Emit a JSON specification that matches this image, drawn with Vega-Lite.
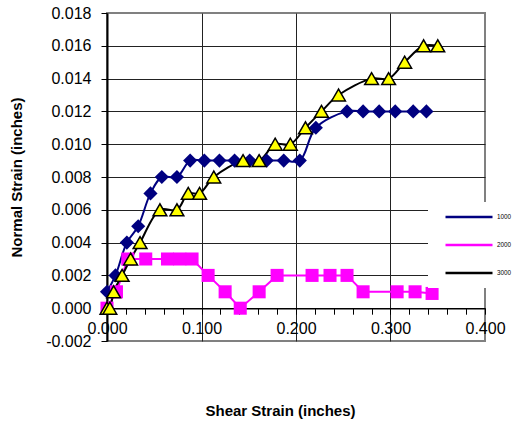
{
  "$schema": "https://vega.github.io/schema/vega-lite/v6.json",
  "width": 378,
  "height": 328,
  "autosize": {"type": "none"},
  "padding": {"left": 107, "top": 13, "right": 27, "bottom": 84},
  "background": "white",
  "config": {
    "view": {"stroke": "#808080", "strokeWidth": 2},
    "font": "Liberation Sans",
    "axis": {"labelColor": "#000", "titleColor": "#000", "tickColor": "#000", "domainColor": "#000", "labelFont": "Liberation Sans", "titleFont": "Liberation Sans"},
    "legend": {"labelFont": "Liberation Sans"}
  },
  "data": {
    "values": [
      {"series": "1000", "x": 0.000, "y": 0.001},
      {"series": "1000", "x": 0.009, "y": 0.002},
      {"series": "1000", "x": 0.021, "y": 0.004},
      {"series": "1000", "x": 0.033, "y": 0.005},
      {"series": "1000", "x": 0.046, "y": 0.007},
      {"series": "1000", "x": 0.058, "y": 0.008},
      {"series": "1000", "x": 0.074, "y": 0.008},
      {"series": "1000", "x": 0.088, "y": 0.009},
      {"series": "1000", "x": 0.103, "y": 0.009},
      {"series": "1000", "x": 0.119, "y": 0.009},
      {"series": "1000", "x": 0.135, "y": 0.009},
      {"series": "1000", "x": 0.151, "y": 0.009},
      {"series": "1000", "x": 0.169, "y": 0.009},
      {"series": "1000", "x": 0.187, "y": 0.009},
      {"series": "1000", "x": 0.204, "y": 0.009},
      {"series": "1000", "x": 0.221, "y": 0.011},
      {"series": "1000", "x": 0.254, "y": 0.012},
      {"series": "1000", "x": 0.271, "y": 0.012},
      {"series": "1000", "x": 0.288, "y": 0.012},
      {"series": "1000", "x": 0.305, "y": 0.012},
      {"series": "1000", "x": 0.324, "y": 0.012},
      {"series": "1000", "x": 0.338, "y": 0.012},
      {"series": "2000", "x": 0.000, "y": 0.000},
      {"series": "2000", "x": 0.010, "y": 0.001},
      {"series": "2000", "x": 0.022, "y": 0.003},
      {"series": "2000", "x": 0.041, "y": 0.003},
      {"series": "2000", "x": 0.064, "y": 0.003},
      {"series": "2000", "x": 0.077, "y": 0.003},
      {"series": "2000", "x": 0.090, "y": 0.003},
      {"series": "2000", "x": 0.107, "y": 0.002},
      {"series": "2000", "x": 0.125, "y": 0.001},
      {"series": "2000", "x": 0.141, "y": 0.000},
      {"series": "2000", "x": 0.161, "y": 0.001},
      {"series": "2000", "x": 0.180, "y": 0.002},
      {"series": "2000", "x": 0.217, "y": 0.002},
      {"series": "2000", "x": 0.236, "y": 0.002},
      {"series": "2000", "x": 0.254, "y": 0.002},
      {"series": "2000", "x": 0.271, "y": 0.001},
      {"series": "2000", "x": 0.307, "y": 0.001},
      {"series": "2000", "x": 0.326, "y": 0.001},
      {"series": "2000", "x": 0.344, "y": 0.0009},
      {"series": "3000", "x": 0.000, "y": 0.000},
      {"series": "3000", "x": 0.003, "y": 0.000},
      {"series": "3000", "x": 0.007, "y": 0.001},
      {"series": "3000", "x": 0.016, "y": 0.002},
      {"series": "3000", "x": 0.025, "y": 0.003},
      {"series": "3000", "x": 0.035, "y": 0.004},
      {"series": "3000", "x": 0.056, "y": 0.006},
      {"series": "3000", "x": 0.074, "y": 0.006},
      {"series": "3000", "x": 0.086, "y": 0.007},
      {"series": "3000", "x": 0.098, "y": 0.007},
      {"series": "3000", "x": 0.113, "y": 0.008},
      {"series": "3000", "x": 0.144, "y": 0.009},
      {"series": "3000", "x": 0.161, "y": 0.009},
      {"series": "3000", "x": 0.178, "y": 0.010},
      {"series": "3000", "x": 0.194, "y": 0.010},
      {"series": "3000", "x": 0.210, "y": 0.011},
      {"series": "3000", "x": 0.227, "y": 0.012},
      {"series": "3000", "x": 0.245, "y": 0.013},
      {"series": "3000", "x": 0.280, "y": 0.014},
      {"series": "3000", "x": 0.298, "y": 0.014},
      {"series": "3000", "x": 0.315, "y": 0.015},
      {"series": "3000", "x": 0.335, "y": 0.016},
      {"series": "3000", "x": 0.350, "y": 0.016}
    ]
  },
  "encoding": {
    "x": {
      "field": "x",
      "type": "quantitative",
      "scale": {"domain": [0, 0.4], "nice": false, "zero": false},
      "axis": {
        "values": [0, 0.02, 0.04, 0.06, 0.08, 0.1, 0.12, 0.14, 0.16, 0.18, 0.2, 0.22, 0.24, 0.26, 0.28, 0.3, 0.32, 0.34, 0.36, 0.38, 0.4],
        "offset": -32.8,
        "domainWidth": 1.5,
        "tickSize": 6,
        "tickWidth": 1,
        "labelExpr": "abs(datum.value*10 - round(datum.value*10)) < 0.001 ? format(datum.value, '.3f') : ''",
        "labelFontSize": 16,
        "labelPadding": 6,
        "labelFlush": false,
        "labelOverlap": false,
        "grid": true,
        "gridColor": "#222",
        "gridWidth": 1,
        "gridOpacity": {"condition": {"test": "abs(datum.value*10 - round(datum.value*10)) < 0.001 && datum.value > 0.05 && datum.value < 0.35", "value": 1}, "value": 0},
        "title": "Shear Strain (inches)",
        "titleFontSize": 15,
        "titleFontWeight": "bold",
        "titleX": 173,
        "titleY": 107,
        "titleBaseline": "alphabetic"
      }
    },
    "y": {
      "field": "y",
      "type": "quantitative",
      "scale": {"domain": [-0.002, 0.018], "nice": false, "zero": false},
      "axis": {
        "values": [-0.002, 0, 0.002, 0.004, 0.006, 0.008, 0.01, 0.012, 0.014, 0.016, 0.018],
        "labelExpr": "datum.value < 0 ? '-' + format(-datum.value, '.3f') : format(datum.value, '.3f')",
        "domainWidth": 2,
        "tickSize": 6,
        "tickWidth": 1,
        "labelFontSize": 16,
        "labelPadding": 10,
        "labelFlush": false,
        "labelOverlap": false,
        "grid": true,
        "gridColor": "#222",
        "gridWidth": 1,
        "gridOpacity": {"condition": {"test": "datum.value > -0.001 && datum.value < 0.017", "value": 1}, "value": 0},
        "title": "Normal Strain (inches)",
        "titleFontSize": 15,
        "titleFontWeight": "bold",
        "titleX": -86,
        "titleY": 164,
        "titleBaseline": "alphabetic"
      }
    }
  },
  "layer": [
    {
      "transform": [{"filter": "datum.series == '2000'"}],
      "mark": {"type": "line", "strokeWidth": 2},
      "encoding": {
        "color": {
          "field": "series", "type": "nominal",
          "scale": {"domain": ["1000", "2000", "3000"], "range": ["#000080", "#FF00FF", "#000000"]},
          "legend": {
            "orient": "none", "legendX": 321, "legendY": 189, "title": null,
            "symbolType": "stroke", "symbolSize": 2209, "symbolStrokeWidth": 2.5, "symbolOffset": 8,
            "clipHeight": 14, "rowPadding": 14, "padding": 8,
            "labelFontSize": 6.3, "labelOffset": 3, "fillColor": "white"
          }
        }
      }
    },
    {
      "transform": [{"filter": "datum.series != '2000'"}],
      "mark": {"type": "line", "strokeWidth": 2, "interpolate": "catmull-rom"},
      "encoding": {
        "color": {"field": "series", "type": "nominal"}
      }
    },
    {
      "transform": [{"filter": "datum.series == '1000'"}],
      "mark": {"type": "point", "shape": "diamond", "filled": true, "opacity": 1, "size": 200, "color": "#000080"},
      "encoding": {}
    },
    {
      "transform": [{"filter": "datum.series == '2000'"}],
      "mark": {"type": "point", "shape": "square", "filled": true, "opacity": 1, "size": 170, "color": "#FF00FF"},
      "encoding": {}
    },
    {
      "transform": [{"filter": "datum.series == '3000'"}],
      "mark": {"type": "point", "shape": "triangle-up", "opacity": 1, "size": 190, "fill": "#FFFF00", "stroke": "#000000", "strokeWidth": 1.5},
      "encoding": {}
    }
  ]
}
